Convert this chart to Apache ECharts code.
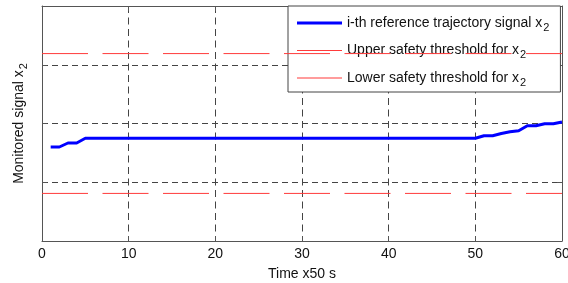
<!DOCTYPE html>
<html>
<head>
<meta charset="utf-8">
<script src="https://cdn.jsdelivr.net/npm/echarts@6/dist/echarts.min.js"></script>
<style>
  html, body { margin: 0; padding: 0; background: #fff; }
  #chart { width: 568px; height: 283px; }
</style>
</head>
<body>
<div id="chart"></div>
<script>
// 时间步 (x50 s) 和参考轨迹信号 x2
const timeSteps = [1, 2, 3, 4, 5, 50, 51, 52, 53, 54, 55, 56, 57, 58, 59, 60]
const signalValues = [1.60, 1.60, 1.668, 1.668, 1.748, 1.748, 1.792, 1.792, 1.830, 1.860, 1.877, 1.963, 1.963, 1.997, 1.997, 2.026]

// 安全阈值
const thresholdTimes = [0, 60]
const upperThreshold = [3.19, 3.19]
const lowerThreshold = [0.81, 0.81]

const xTicks = [0, 10, 20, 30, 40, 50, 60]
const legendNames = ['i-th reference trajectory signal x2', 'Upper safety threshold for x2', 'Lower safety threshold for x2']

const toPairs = (xs, ys) => xs.map((x, i) => [x, ys[i]])

const chart = echarts.init(document.getElementById('chart'))

const font = 'Liberation Sans, Arial, sans-serif'
const frameColor = '#555'
const gridDash = { color: '#444', width: 1, type: [6, 4] }
const redColor = '#ff3b3b'

const richText = {
  t: { fontSize: 14, fontFamily: font, color: '#111' },
  s: { fontSize: 11, fontFamily: font, color: '#111', padding: [9, 0, 0, 1] }
}

// 图例线条图标（粗蓝线 / 细红线）
const thickIcon = 'path://M0,0h45v3h-45z'
const thinIcon = 'path://M0,0h45v1h-45z'

const option = {
  animation: false,
  grid: { left: 42, right: 6, top: 6, bottom: 42, outerBoundsMode: 'none' },
  legend: {
    orient: 'vertical',
    left: 288,
    top: 6,
    padding: [10, 11, 4, 9],
    itemGap: 10.5,
    itemWidth: 45,
    itemHeight: 14,
    backgroundColor: '#fff',
    borderColor: '#444',
    borderWidth: 1,
    borderRadius: 0,
    textStyle: { rich: richText },
    formatter: name => '{t|' + name.replace(/ x2$/, ' x') + '}{s|2}',
    data: [
      { name: legendNames[0], icon: thickIcon },
      { name: legendNames[1], icon: thinIcon },
      { name: legendNames[2], icon: thinIcon }
    ]
  },
  xAxis: [
    {
      type: 'value',
      min: 0,
      max: 60,
      interval: 10,
      name: 'Time x50 s',
      nameLocation: 'middle',
      nameGap: 26,
      nameTextStyle: { fontSize: 14, fontFamily: font, color: '#111' },
      axisLine: { show: true, onZero: false, lineStyle: { color: frameColor } },
      axisTick: { show: true, inside: true, length: 5, lineStyle: { color: frameColor } },
      axisLabel: {
        fontSize: 14, fontFamily: font, color: '#111', margin: 6,
        formatter: v => xTicks.includes(v) ? String(v) : ''
      },
      splitLine: { show: true, lineStyle: Object.assign({}, gridDash, { type: [7, 4.5] }) }
    },
    {
      type: 'value',
      position: 'top',
      min: 0,
      max: 60,
      interval: 10,
      axisLine: { show: true, onZero: false, lineStyle: { color: frameColor } },
      axisTick: { show: true, inside: true, length: 5, lineStyle: { color: frameColor } },
      axisLabel: { show: false },
      splitLine: { show: false }
    }
  ],
  yAxis: [
    {
      type: 'value',
      min: 0,
      max: 4,
      interval: 1,
      name: '{t|Monitored signal x}{s|2}',
      nameLocation: 'middle',
      nameGap: 13,
      nameTextStyle: { rich: richText },
      axisLine: { show: true, onZero: false, lineStyle: { color: frameColor } },
      axisTick: { show: true, inside: true, length: 5, lineStyle: { color: frameColor } },
      axisLabel: { show: false },
      splitLine: { show: true, lineStyle: gridDash }
    },
    {
      type: 'value',
      position: 'right',
      min: 0,
      max: 4,
      interval: 1,
      axisLine: { show: true, onZero: false, lineStyle: { color: frameColor } },
      axisTick: { show: true, inside: true, length: 5, lineStyle: { color: frameColor } },
      axisLabel: { show: false },
      splitLine: { show: false }
    }
  ],
  series: [
    {
      name: legendNames[0],
      type: 'line',
      data: toPairs(timeSteps, signalValues),
      symbol: 'none',
      lineStyle: { color: '#0000ff', width: 3 },
      itemStyle: { color: '#0000ff' },
      z: 5
    },
    {
      name: legendNames[1],
      type: 'line',
      data: toPairs(thresholdTimes, upperThreshold),
      symbol: 'none',
      lineStyle: { color: redColor, width: 1, type: [46, 14.5] },
      itemStyle: { color: redColor },
      z: 4
    },
    {
      name: legendNames[2],
      type: 'line',
      data: toPairs(thresholdTimes, lowerThreshold),
      symbol: 'none',
      lineStyle: { color: redColor, width: 1, type: [46, 14.5] },
      itemStyle: { color: redColor },
      z: 4
    }
  ]
}

chart.setOption(option)
</script>
</body>
</html>
